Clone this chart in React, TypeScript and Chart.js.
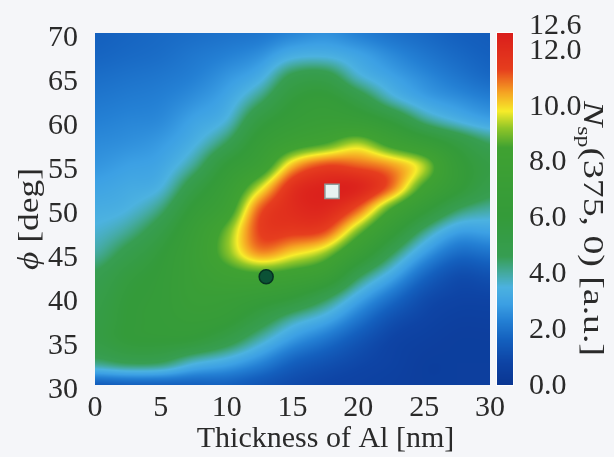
import React, { useEffect, useRef } from 'react';
import { Chart, registerables } from 'chart.js';

Chart.register(...registerables);

// ---- axes ----
const thicknessNm = [0, 2.5, 5, 7.5, 10, 12.5, 15, 17.5, 20, 22.5, 25, 27.5, 30];
const phiDeg = [30, 32.5, 35, 37.5, 40, 42.5, 45, 47.5, 50, 52.5, 55, 57.5, 60, 62.5, 65, 67.5, 70];
const xTicks = [0, 5, 10, 15, 20, 25, 30];
const yTicks = [30, 35, 40, 45, 50, 55, 60, 65, 70];
const colorbarTicks = [0, 2, 4, 6, 8, 10, 12, 12.6];

const nspPhi30 = [1.5, 1.6, 1.6, 1.6, 1.6, 1.3, 1.0, 0.8, 0.7, 0.6, 0.5, 0.5, 0.5];
const nspPhi32_5 = [4.2, 4.6, 4.5, 3.6, 3.1, 2.4, 1.6, 1.2, 0.9, 0.7, 0.5, 0.5, 0.5];
const nspPhi35 = [5.3, 5.9, 6.0, 5.8, 5.0, 3.8, 2.7, 2.0, 1.3, 0.8, 0.6, 0.5, 0.5];
const nspPhi37_5 = [5.3, 6.0, 6.3, 6.6, 6.3, 5.2, 4.0, 3.2, 2.1, 1.2, 0.8, 0.6, 0.6];
const nspPhi40 = [5.1, 5.9, 6.3, 7.0, 7.0, 6.6, 6.0, 4.8, 3.2, 2.0, 1.1, 0.8, 0.8];
const nspPhi42_5 = [4.7, 5.6, 6.2, 7.2, 8.0, 8.3, 8.0, 7.2, 4.8, 3.2, 1.8, 1.1, 1.2];
const nspPhi45 = [4.0, 4.9, 5.9, 7.3, 9.0, 10.6, 10.0, 9.2, 7.0, 4.7, 2.9, 1.9, 2.0];
const nspPhi47_5 = [3.6, 4.1, 5.2, 7.0, 8.9, 11.3, 11.5, 11.2, 9.0, 6.5, 4.3, 3.0, 3.0];
const nspPhi50 = [3.3, 3.5, 4.3, 6.2, 7.8, 11.0, 12.0, 12.2, 11.0, 8.5, 6.3, 4.6, 4.0];
const nspPhi52_5 = [3.0, 3.2, 3.5, 5.2, 7.0, 9.5, 11.8, 12.4, 12.3, 10.9, 8.3, 6.3, 5.0];
const nspPhi55 = [2.7, 2.9, 3.1, 4.1, 6.0, 7.5, 10.2, 11.2, 11.0, 10.5, 9.3, 6.5, 5.3];
const nspPhi57_5 = [2.5, 2.6, 2.8, 3.4, 4.6, 6.5, 7.8, 8.5, 9.3, 8.0, 6.8, 5.5, 4.5];
const nspPhi60 = [2.3, 2.4, 2.5, 3.0, 3.6, 5.5, 6.5, 7.0, 6.8, 5.8, 4.3, 3.5, 3.0];
const nspPhi62_5 = [2.1, 2.2, 2.3, 2.6, 3.1, 4.3, 5.8, 6.2, 5.2, 3.8, 3.0, 2.6, 2.3];
const nspPhi65 = [1.9, 2.0, 2.1, 2.3, 2.7, 3.3, 4.8, 5.0, 3.7, 3.0, 2.5, 2.1, 1.8];
const nspPhi67_5 = [1.7, 1.8, 1.9, 2.1, 2.3, 2.6, 3.3, 3.4, 3.0, 2.5, 2.1, 1.8, 1.6];
const nspPhi70 = [1.6, 1.7, 1.8, 1.9, 2.0, 2.1, 2.4, 2.6, 2.3, 2.0, 1.8, 1.6, 1.5];

const nspRows = [
  nspPhi30, nspPhi32_5, nspPhi35, nspPhi37_5, nspPhi40, nspPhi42_5, nspPhi45, nspPhi47_5,
  nspPhi50, nspPhi52_5, nspPhi55, nspPhi57_5, nspPhi60, nspPhi62_5, nspPhi65, nspPhi67_5, nspPhi70,
];

// ---- marked points ----
const optimumPoint = [{ x: 18, y: 52 }];
const designPoint = [{ x: 13, y: 42.3 }];

// ---- colour map stops: value, r, g, b ----
const cmapValues = [0, 0.8, 1.6, 2.3, 2.9, 3.5, 4.0, 4.6, 6.0, 8.5, 9.2, 9.8, 10.5, 11.3, 12.6];
const cmapColors: [number, number, number][] = [
  [10, 54, 146], [14, 68, 165], [20, 96, 190], [36, 128, 212], [60, 160, 228], [76, 178, 224],
  [68, 170, 160], [55, 158, 82], [52, 155, 58], [64, 162, 50], [145, 198, 40], [247, 236, 42],
  [245, 160, 35], [230, 62, 30], [218, 30, 28],
];

const FONT = "'Liberation Serif', 'Times New Roman', Times, serif";
const TEXT = '#2a2a2a';
const BG = '#f5f6f9';

function colormap(v: number): [number, number, number] {
  if (v <= cmapValues[0]) return cmapColors[0];
  const n = cmapValues.length;
  if (v >= cmapValues[n - 1]) return cmapColors[n - 1];
  for (let i = 0; i < n - 1; i++) {
    if (v <= cmapValues[i + 1]) {
      const t = (v - cmapValues[i]) / (cmapValues[i + 1] - cmapValues[i]);
      const a = cmapColors[i], b = cmapColors[i + 1];
      return [a[0] + (b[0] - a[0]) * t, a[1] + (b[1] - a[1]) * t, a[2] + (b[2] - a[2]) * t];
    }
  }
  return cmapColors[n - 1];
}

function cr(p0: number, p1: number, p2: number, p3: number, t: number) {
  return 0.5 * (2 * p1 + (-p0 + p2) * t + (2 * p0 - 5 * p1 + 4 * p2 - p3) * t * t + (-p0 + 3 * p1 - 3 * p2 + p3) * t * t * t);
}

function sampleGrid(t: number, phi: number) {
  const nx = thicknessNm.length, ny = phiDeg.length;
  const gx = Math.max(0, Math.min(nx - 1, (t - thicknessNm[0]) / (thicknessNm[1] - thicknessNm[0])));
  const gy = Math.max(0, Math.min(ny - 1, (phi - phiDeg[0]) / (phiDeg[1] - phiDeg[0])));
  const i1 = Math.min(Math.floor(gx), nx - 2), j1 = Math.min(Math.floor(gy), ny - 2);
  const fx = gx - i1, fy = gy - j1;
  const ci = (i: number) => Math.max(0, Math.min(nx - 1, i));
  const cj = (j: number) => Math.max(0, Math.min(ny - 1, j));
  const rowVals: number[] = [];
  for (let k = -1; k <= 2; k++) {
    const r = nspRows[cj(j1 + k)];
    rowVals.push(cr(r[ci(i1 - 1)], r[ci(i1)], r[ci(i1 + 1)], r[ci(i1 + 2)], fx));
  }
  return cr(rowVals[0], rowVals[1], rowVals[2], rowVals[3], fy);
}

const backgroundPlugin = {
  id: 'bg',
  beforeDraw(chart: any) {
    const { ctx, width, height } = chart;
    ctx.save();
    ctx.fillStyle = BG;
    ctx.fillRect(0, 0, width, height);
    ctx.restore();
  },
};

const heatmapPlugin = {
  id: 'heatmap',
  beforeDatasetsDraw(chart: any) {
    const { ctx, chartArea: a, scales } = chart;
    const xs = scales.x, ys = scales.y, cb = scales.cb;
    const w = Math.round(a.right - a.left), h = Math.round(a.bottom - a.top);
    const off = document.createElement('canvas');
    off.width = w; off.height = h;
    const octx = off.getContext('2d')!;
    const img = octx.createImageData(w, h);
    for (let j = 0; j < h; j++) {
      const phi = ys.getValueForPixel(a.top + j + 0.5);
      for (let i = 0; i < w; i++) {
        const t = xs.getValueForPixel(a.left + i + 0.5);
        const c = colormap(sampleGrid(t, phi));
        const p = (j * w + i) * 4;
        img.data[p] = c[0]; img.data[p + 1] = c[1]; img.data[p + 2] = c[2]; img.data[p + 3] = 255;
      }
    }
    octx.putImageData(img, 0, 0);
    ctx.save();
    ctx.drawImage(off, a.left, a.top);
    // colour bar
    const x0 = a.right + 7, bw = 16;
    const top = Math.round(cb.getPixelForValue(cb.max)), bot = Math.round(cb.getPixelForValue(cb.min));
    ctx.fillStyle = '#ffffff';
    ctx.fillRect(x0 - 1, top - 1, bw + 2, bot - top + 2);
    for (let py = top; py < bot; py++) {
      const c = colormap(cb.getValueForPixel(py + 0.5));
      ctx.fillStyle = `rgb(${c[0] | 0},${c[1] | 0},${c[2] | 0})`;
      ctx.fillRect(x0, py, bw, 1);
    }
    ctx.restore();
  },
};

const titlesPlugin = {
  id: 'titles',
  afterDraw(chart: any) {
    const { ctx, chartArea: a } = chart;
    ctx.save();
    ctx.fillStyle = TEXT;
    ctx.textBaseline = 'alphabetic';
    // x title
    ctx.font = `30px ${FONT}`;
    ctx.textAlign = 'center';
    ctx.fillText('Thickness of Al [nm]', (a.left + a.right) / 2 + 33, 447);

    // y title, rotated counter-clockwise
    ctx.textAlign = 'left';
    ctx.font = `italic 30px ${FONT}`;
    const wPhi = ctx.measureText('ϕ').width;
    ctx.font = `30px ${FONT}`;
    const wRest = ctx.measureText(' [deg]').width;
    const yLen = 102;
    const ySc = Math.max(0.9, Math.min(1.3, yLen / (wPhi + wRest)));
    ctx.save();
    ctx.translate(38, 270);
    ctx.rotate(-Math.PI / 2);
    ctx.scale(ySc, 1);
    ctx.font = `italic 30px ${FONT}`;
    ctx.fillText('ϕ', 0, 0);
    ctx.font = `30px ${FONT}`;
    ctx.fillText(' [deg]', wPhi, 0);
    ctx.restore();

    // colour-bar title, rotated clockwise
    ctx.font = `italic 30px ${FONT}`;
    const wN = ctx.measureText('N').width;
    ctx.font = `19px ${FONT}`;
    const wSub = ctx.measureText('sp').width;
    ctx.font = `30px ${FONT}`;
    const wTail = ctx.measureText('(375, 0) [a.u.]').width;
    const cbLen = 255;
    const sc = cbLen / (wN + wSub + wTail);
    ctx.save();
    ctx.translate(584, 101);
    ctx.rotate(Math.PI / 2);
    ctx.scale(sc, 1);
    ctx.font = `italic 30px ${FONT}`;
    ctx.fillText('N', 0, 0);
    ctx.font = `19px ${FONT}`;
    ctx.fillText('sp', wN, 6);
    ctx.font = `30px ${FONT}`;
    ctx.fillText('(375, 0) [a.u.]', wN + wSub, 0);
    ctx.restore();

    ctx.restore();
  },
};

const tickFont = { family: FONT, size: 30 };

export default function App() {
  const ref = useRef<HTMLCanvasElement>(null);
  useEffect(() => {
    if (!ref.current) return;
    const chart = new Chart(ref.current, {
      type: 'scatter',
      data: {
        datasets: [
          {
            label: 'optimum',
            data: optimumPoint,
            pointStyle: 'rect',
            pointRadius: 10,
            backgroundColor: '#e8f3f1',
            borderColor: '#8c9c9a',
            borderWidth: 1.5,
          },
          {
            label: 'design',
            data: designPoint,
            pointStyle: 'circle',
            pointRadius: 7,
            backgroundColor: '#0b5236',
            borderColor: '#063222',
            borderWidth: 1.5,
          },
        ],
      },
      options: {
        animation: false,
        responsive: false,
        events: [],
        layout: { padding: { top: 33, left: 0, right: 0, bottom: 0 } },
        plugins: { legend: { display: false }, tooltip: { enabled: false } },
        scales: {
          x: {
            type: 'linear',
            position: 'bottom',
            min: 0,
            max: 30,
            afterBuildTicks: (s: any) => { s.ticks = xTicks.map((v) => ({ value: v })); },
            afterFit: (s: any) => { s.height = 72; },
            ticks: { font: tickFont, color: TEXT, padding: -3, maxRotation: 0, autoSkip: false, callback: (v: any) => String(v) },
            grid: { display: false },
            border: { display: false },
          },
          y: {
            type: 'linear',
            position: 'left',
            min: 30,
            max: 70,
            afterBuildTicks: (s: any) => { s.ticks = yTicks.map((v) => ({ value: v })); },
            afterFit: (s: any) => { s.width = 95; s.paddingTop = 0; s.paddingBottom = 0; },
            ticks: { font: tickFont, color: TEXT, padding: 9, labelOffset: 5, autoSkip: false, callback: (v: any) => String(v) },
            grid: { display: false },
            border: { display: false },
          },
          cb: {
            type: 'linear',
            axis: 'y',
            position: 'right',
            min: 0,
            max: 12.6,
            afterBuildTicks: (s: any) => { s.ticks = colorbarTicks.map((v) => ({ value: v })); },
            afterFit: (s: any) => { s.width = 124; s.paddingTop = 0; s.paddingBottom = 0; },
            ticks: {
              font: (c: any) => (c.tick && c.tick.value === 12.6 ? { family: FONT, size: 30, lineHeight: 0.55 } : tickFont),
              color: TEXT,
              padding: 31,
              labelOffset: 1,
              autoSkip: false,
              callback: (v: any) => (Number(v) === 12.6 ? ['12.6', ''] : Number(v).toFixed(1)),
            },
            grid: { display: false },
            border: { display: false },
          },
        },
      } as any,
      plugins: [backgroundPlugin, heatmapPlugin, titlesPlugin],
    });
    return () => chart.destroy();
  }, []);
  return (
    <div style={{ position: 'absolute', left: 0, top: 0, width: 614, height: 457, background: BG }}>
      <canvas ref={ref} width={614} height={457} style={{ display: 'block', width: 614, height: 457 }} />
    </div>
  );
}
